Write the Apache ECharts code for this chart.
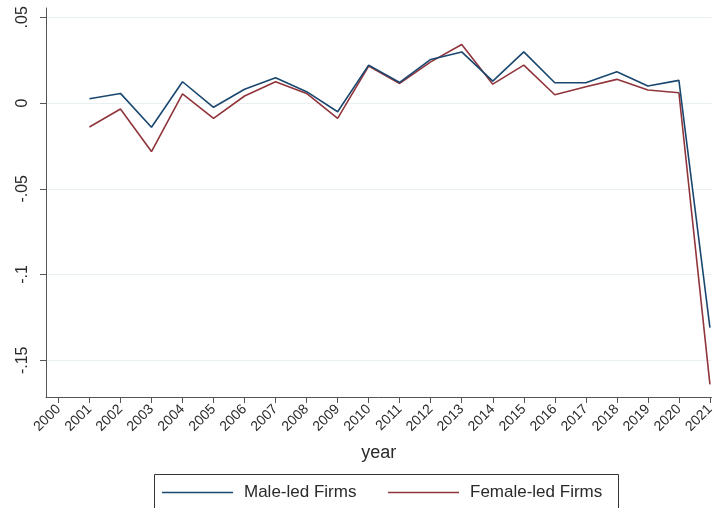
<!DOCTYPE html>
<html>
<head>
<meta charset="utf-8">
<script src="https://cdn.jsdelivr.net/npm/echarts@6/dist/echarts.min.js"></script>
<style>
  html, body { margin: 0; padding: 0; background: #fff; }
  #chart { width: 717px; height: 508px; }
</style>
</head>
<body>
<div id="chart"></div>
<script>
// Annual values by year
const years = [2000, 2001, 2002, 2003, 2004, 2005, 2006, 2007, 2008, 2009, 2010,
               2011, 2012, 2013, 2014, 2015, 2016, 2017, 2018, 2019, 2020, 2021];
const maleLed = [null, 0.0025, 0.0056, -0.0141, 0.0124, -0.0025, 0.0080, 0.0147, 0.0066, -0.0051, 0.0221,
                 0.0120, 0.0254, 0.0298, 0.0128, 0.0298, 0.0118, 0.0118, 0.0182, 0.0099, 0.0132, -0.1310];
const femaleLed = [null, -0.0140, -0.0035, -0.0283, 0.0054, -0.0089, 0.0041, 0.0124, 0.0056, -0.0089, 0.0215,
                   0.0114, 0.0240, 0.0341, 0.0110, 0.0221, 0.0048, 0.0095, 0.0138, 0.0076, 0.0060, -0.1640];
const yTicks = [-0.15, -0.1, -0.05, 0, 0.05];
const yTickLabels = ['-.15', '-.1', '-.05', '0', '.05'];

const FONT = 'Liberation Sans, Arial, Helvetica, sans-serif';
const axisColor = '#555555';
const gridColor = '#e8f0f1';
const textColor = '#2a2a2a';

function pairs(vals) {
  return years.map((y, i) => [y, vals[i]]).filter(p => p[1] !== null);
}

const chart = echarts.init(document.getElementById('chart'), null, { renderer: 'canvas' });

chart.setOption({
  animation: false,
  backgroundColor: '#ffffff',
  grid: { left: 46, right: 1, top: 8, bottom: 111, containLabel: false },
  xAxis: {
    type: 'value',
    min: 1999.6,
    max: 2021.05,
    name: 'year',
    nameLocation: 'middle',
    nameGap: 47,
    nameTextStyle: { fontFamily: FONT, fontSize: 18, color: textColor },
    axisLine: { show: true, onZero: false, lineStyle: { color: axisColor, width: 1 } },
    axisTick: { show: true, length: 6, customValues: years, lineStyle: { color: axisColor } },
    axisLabel: {
      customValues: years,
      rotate: 45,
      margin: 10,
      fontFamily: FONT,
      fontSize: 14,
      color: textColor,
      formatter: v => String(Math.round(v))
    },
    splitLine: { show: false }
  },
  yAxis: {
    type: 'value',
    min: -0.1714,
    max: 0.0554,
    axisLine: { show: true, onZero: false, lineStyle: { color: axisColor, width: 1 } },
    axisTick: { show: true, length: 6, customValues: yTicks, lineStyle: { color: axisColor } },
    axisLabel: {
      customValues: yTicks,
      rotate: 90,
      margin: 15,
      fontFamily: FONT,
      fontSize: 16,
      color: textColor,
      formatter: v => {
        const i = yTicks.findIndex(t => Math.abs(t - v) < 1e-9);
        return i >= 0 ? yTickLabels[i] : '';
      }
    },
    splitLine: { show: true, customValues: yTicks, lineStyle: { color: gridColor, width: 1 } }
  },
  legend: [
    {
      data: [{ name: 'Male-led Firms', icon: 'rect' }],
      left: 157, top: 479,
      itemWidth: 71, itemHeight: 1.5, itemGap: 0,
      textStyle: { fontFamily: FONT, fontSize: 17, color: textColor, padding: [0, 0, 0, 6] },
      selectedMode: false
    },
    {
      data: [{ name: 'Female-led Firms', icon: 'rect' }],
      left: 383, top: 479,
      itemWidth: 71, itemHeight: 1.5, itemGap: 0,
      textStyle: { fontFamily: FONT, fontSize: 17, color: textColor, padding: [0, 0, 0, 6] },
      selectedMode: false
    }
  ],
  graphic: [
    {
      type: 'rect',
      shape: { x: 154.5, y: 474.5, width: 464, height: 50 },
      style: { fill: 'none', stroke: '#333', lineWidth: 1 },
      z: 0
    }
  ],
  series: [
    {
      name: 'Male-led Firms',
      type: 'line',
      data: pairs(maleLed),
      symbol: 'none',
      lineStyle: { color: '#1a476f', width: 1.6 },
      itemStyle: { color: '#1a476f' },
      z: 3
    },
    {
      name: 'Female-led Firms',
      type: 'line',
      data: pairs(femaleLed),
      symbol: 'none',
      lineStyle: { color: '#90353b', width: 1.6 },
      itemStyle: { color: '#90353b' },
      z: 2
    }
  ]
});
</script>
</body>
</html>
